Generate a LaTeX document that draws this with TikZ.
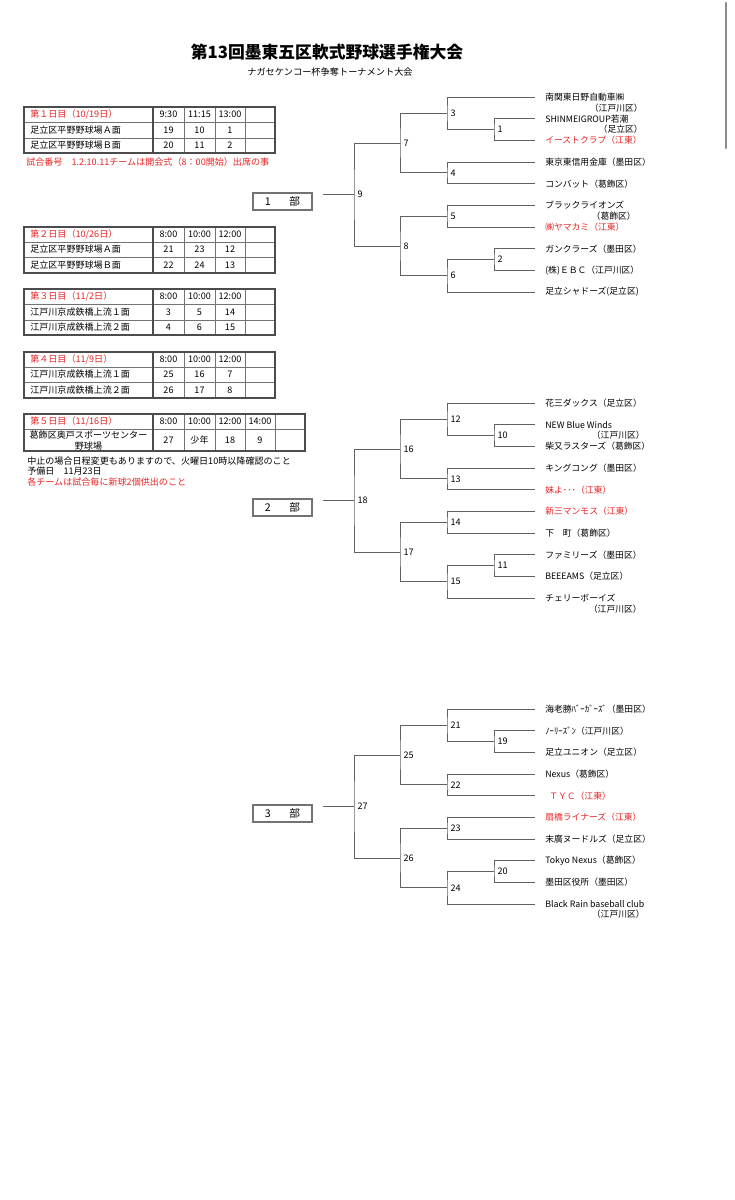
\documentclass[tikz,border=0pt]{standalone}
\usepackage{fontspec}
\setmainfont{Noto Sans CJK JP}
\definecolor{jred}{RGB}{232,36,36}

\begin{document}
\begin{tikzpicture}[
  x=0.75pt, y=-0.75pt,
  font=\fontsize{6.8}{8}\selectfont,
  team/.style={anchor=west, inner xsep=7.5pt, inner ysep=1pt,
               font=\fontsize{6.6}{7.5}\selectfont},
  ward/.style={anchor=east, inner sep=0pt, font=\fontsize{6.6}{7.5}\selectfont},
  num/.style={anchor=west, inner xsep=2.5pt, inner ysep=0pt,
              font=\fontsize{6.8}{8}\selectfont},
  br/.style={draw=black!62, line width=0.6pt},
  bu/.style={draw=black!55, line width=1.4pt, minimum width=44.25pt,
             minimum height=12.75pt, inner sep=0pt, font=\fontsize{8}{9}\selectfont},
  cell/.style={inner sep=0pt},
  lab/.style={anchor=west, inner sep=0pt},
  tline/.style={draw=black!55, line width=0.5pt},
  tframe/.style={draw=black!70, line width=1pt},
]
  \useasboundingbox (0,0) rectangle (735,1200);
  % ── Title ──
  \node[font=\fontsize{12.6}{14}\selectfont\bfseries] (title) at (327,52)
    {第13回墨東五区軟式野球選手権大会};
  \node[font=\fontsize{6.9}{8}\selectfont] (sub) at (330,72)
    {ナガセケンコー杯争奪トーナメント大会};
  % scroll bar of the screenshot
  \draw[line width=2.2pt, black!45, line cap=round] (726,3) -- (726,148);

  % ── Schedule: day 1 ──
  \draw[tline] (24,122) -- (275,122) (24,138) -- (275,138)
    (184,107) -- (184,153) (215,107) -- (215,153) (245,107) -- (245,153);
  \draw[tframe] (24,107) rectangle (275,153) (153,107) -- (153,153);
  \node[lab, text=jred] (d1) at (30,114.5) {第１日目（10/19日）};
  \node[cell] (d1x) at (168.5,114.5) {9:30};
  \node[cell] (d1y) at (199.5,114.5) {11:15};
  \node[cell] (d1z) at (230,114.5) {13:00};
  \node[lab] (a1) at (30,130) {足立区平野野球場Ａ面};
  \node[cell] (a1x) at (168.5,130) {19};
  \node[cell] (a1y) at (199.5,130) {10};
  \node[cell] (a1z) at (230,130) {1};
  \node[lab] (b1) at (30,145.5) {足立区平野野球場Ｂ面};
  \node[cell] (b1x) at (168.5,145.5) {20};
  \node[cell] (b1y) at (199.5,145.5) {11};
  \node[cell] (b1z) at (230,145.5) {2};
  \node[lab, text=jred] (note1) at (26,162)
    {試合番号　1.2.10.11チームは開会式（8：00開始）出席の事};

  % ── Schedule: day 2 ──
  \draw[tline] (24,242) -- (275,242) (24,257) -- (275,257)
    (184,227) -- (184,273) (215,227) -- (215,273) (245,227) -- (245,273);
  \draw[tframe] (24,227) rectangle (275,273) (153,227) -- (153,273);
  \node[lab, text=jred] (d2) at (30,234.5) {第２日目（10/26日）};
  \node[cell] (d2x) at (168.5,234.5) {8:00};
  \node[cell] (d2y) at (199.5,234.5) {10:00};
  \node[cell] (d2z) at (230,234.5) {12:00};
  \node[lab] (a2) at (30,249.5) {足立区平野野球場Ａ面};
  \node[cell] (a2x) at (168.5,249.5) {21};
  \node[cell] (a2y) at (199.5,249.5) {23};
  \node[cell] (a2z) at (230,249.5) {12};
  \node[lab] (b2) at (30,265) {足立区平野野球場Ｂ面};
  \node[cell] (b2x) at (168.5,265) {22};
  \node[cell] (b2y) at (199.5,265) {24};
  \node[cell] (b2z) at (230,265) {13};

  % ── Schedule: day 3 ──
  \draw[tline] (24,304) -- (275,304) (24,320) -- (275,320)
    (184,289) -- (184,335) (215,289) -- (215,335) (245,289) -- (245,335);
  \draw[tframe] (24,289) rectangle (275,335) (153,289) -- (153,335);
  \node[lab, text=jred] (d3) at (30,296.5) {第３日目（11/2日）};
  \node[cell] (d3x) at (168.5,296.5) {8:00};
  \node[cell] (d3y) at (199.5,296.5) {10:00};
  \node[cell] (d3z) at (230,296.5) {12:00};
  \node[lab] (a3) at (30,312) {江戸川京成鉄橋上流１面};
  \node[cell] (a3x) at (168.5,312) {3};
  \node[cell] (a3y) at (199.5,312) {5};
  \node[cell] (a3z) at (230,312) {14};
  \node[lab] (b3) at (30,327.5) {江戸川京成鉄橋上流２面};
  \node[cell] (b3x) at (168.5,327.5) {4};
  \node[cell] (b3y) at (199.5,327.5) {6};
  \node[cell] (b3z) at (230,327.5) {15};

  % ── Schedule: day 4 ──
  \draw[tline] (24,367) -- (275,367) (24,382) -- (275,382)
    (184,352) -- (184,398) (215,352) -- (215,398) (245,352) -- (245,398);
  \draw[tframe] (24,352) rectangle (275,398) (153,352) -- (153,398);
  \node[lab, text=jred] (d4) at (30,359.5) {第４日目（11/9日）};
  \node[cell] (d4x) at (168.5,359.5) {8:00};
  \node[cell] (d4y) at (199.5,359.5) {10:00};
  \node[cell] (d4z) at (230,359.5) {12:00};
  \node[lab] (a4) at (30,374.5) {江戸川京成鉄橋上流１面};
  \node[cell] (a4x) at (168.5,374.5) {25};
  \node[cell] (a4y) at (199.5,374.5) {16};
  \node[cell] (a4z) at (230,374.5) {7};
  \node[lab] (b4) at (30,390) {江戸川京成鉄橋上流２面};
  \node[cell] (b4x) at (168.5,390) {26};
  \node[cell] (b4y) at (199.5,390) {17};
  \node[cell] (b4z) at (230,390) {8};

  % ── Schedule: day 5 ──
  \draw[tline] (24,429) -- (305,429)
    (184,414) -- (184,451) (215,414) -- (215,451) (245,414) -- (245,451)
    (275,414) -- (275,451);
  \draw[tframe] (24,414) rectangle (305,451) (153,414) -- (153,451);
  \node[lab, text=jred] (d5) at (30,421.5) {第５日目（11/16日）};
  \node[cell] (d5x) at (168.5,421.5) {8:00};
  \node[cell] (d5y) at (199.5,421.5) {10:00};
  \node[cell] (d5z) at (230,421.5) {12:00};
  \node[cell] (d5w) at (260,421.5) {14:00};
  \node[cell, align=center, font=\fontsize{6.8}{7.6}\selectfont] (a5) at (88.5,440.5)
    {葛飾区奥戸スポーツセンター\\野球場};
  \node[cell] (a5x) at (168.5,440) {27};
  \node[cell] (a5y) at (199.5,440) {少年};
  \node[cell] (a5z) at (230,440) {18};
  \node[cell] (a5w) at (260,440) {9};
  \node[lab] (note2) at (27,461) {中止の場合日程変更もありますので、火曜日10時以降確認のこと};
  \node[lab] (note3) at (27,471.5) {予備日　11月23日};
  \node[lab, text=jred] (note4) at (27,482) {各チームは試合毎に新球2個供出のこと};

  % ── Division boxes ──
  \node[bu] (p1) at (282.5,201.5) {1\hspace{14pt}部};
  \node[bu] (p2) at (282.5,507.5) {2\hspace{14pt}部};
  \node[bu] (p3) at (282.5,813.5) {3\hspace{14pt}部};

  % ── Division 1: teams ──
  \node[team] (t1) at (535,97) {南関東日野自動車㈱};
  \node[ward] (w1) at (643,108) {（江戸川区）};
  \node[team] (t2) at (535,118.7) {SHINMEIGROUP若潮};
  \node[ward] (w2) at (643,129.5) {（足立区）};
  \node[team, text=jred] (t3) at (535,140.3) {イーストクラブ（江東）};
  \node[team] (t4) at (535,162) {東京東信用金庫（墨田区）};
  \node[team] (t5) at (535,183.7) {コンバット（葛飾区）};
  \node[team] (t6) at (535,205.3) {ブラックライオンズ};
  \node[ward] (w6) at (636,216) {（葛飾区）};
  \node[team, text=jred] (t7) at (535,227) {㈱ヤマカミ（江東）};
  \node[team] (t8) at (535,248.7) {ガンクラーズ（墨田区）};
  \node[team] (t9) at (535,270.3) {(株)ＥＢＣ（江戸川区）};
  \node[team] (t10) at (535,292) {足立シャドーズ(足立区)};
  % ── Division 1: games ──
  \node[num] (m1) at (494,129.5) {1};
  \node[num] (m3) at (447,113.25) {3};
  \node[num] (m4) at (447,172.8) {4};
  \node[num] (m7) at (400,143) {7};
  \node[num] (m5) at (447,216.2) {5};
  \node[num] (m2) at (494,259.5) {2};
  \node[num] (m6) at (447,275.75) {6};
  \node[num] (m8) at (400,246) {8};
  \node[num] (m9) at (354,194.5) {9};
  \draw[br] (t2.west) -| (m1.west) |- (t3.west);
  \draw[br] (t1.west) -| (m3.west) |- (m1.west);
  \draw[br] (t4.west) -| (m4.west) |- (t5.west);
  \draw[br] (m3.west) -| (m7.west) |- (m4.west);
  \draw[br] (t6.west) -| (m5.west) |- (t7.west);
  \draw[br] (t8.west) -| (m2.west) |- (t9.west);
  \draw[br] (m2.west) -| (m6.west) |- (t10.west);
  \draw[br] (m5.west) -| (m8.west) |- (m6.west);
  \draw[br] (m7.west) -| (m9.west) |- (m8.west);
  \draw[br, shorten <=7.5pt] (p1.east |- m9.west) -- (m9.west);

  % ── Division 2: teams ──
  \node[team] (t11) at (535,403) {花三ダックス（足立区）};
  \node[team] (t12) at (535,424.7) {NEW Blue Winds};
  \node[ward] (w12) at (645,435.5) {（江戸川区）};
  \node[team] (t13) at (535,446.3) {柴又ラスターズ（葛飾区）};
  \node[team] (t14) at (535,468) {キングコング（墨田区）};
  \node[team, text=jred] (t15) at (535,489.7) {妹よ･･･（江東）};
  \node[team, text=jred] (t16) at (535,511.3) {新三マンモス（江東）};
  \node[team] (t17) at (535,533) {下　町（葛飾区）};
  \node[team] (t18) at (535,554.7) {ファミリーズ（墨田区）};
  \node[team] (t19) at (535,576.3) {BEEEAMS（足立区）};
  \node[team] (t20) at (535,598) {チェリーボーイズ};
  \node[ward] (w20) at (642,609) {（江戸川区）};
  % ── Division 2: games ──
  \node[num] (m10) at (494,435.5) {10};
  \node[num] (m12) at (447,419.25) {12};
  \node[num] (m13) at (447,478.8) {13};
  \node[num] (m16) at (400,449) {16};
  \node[num] (m14) at (447,522.2) {14};
  \node[num] (m11) at (494,565.5) {11};
  \node[num] (m15) at (447,581.75) {15};
  \node[num] (m17) at (400,552) {17};
  \node[num] (m18) at (354,500.5) {18};
  \draw[br] (t12.west) -| (m10.west) |- (t13.west);
  \draw[br] (t11.west) -| (m12.west) |- (m10.west);
  \draw[br] (t14.west) -| (m13.west) |- (t15.west);
  \draw[br] (m12.west) -| (m16.west) |- (m13.west);
  \draw[br] (t16.west) -| (m14.west) |- (t17.west);
  \draw[br] (t18.west) -| (m11.west) |- (t19.west);
  \draw[br] (m11.west) -| (m15.west) |- (t20.west);
  \draw[br] (m14.west) -| (m17.west) |- (m15.west);
  \draw[br] (m16.west) -| (m18.west) |- (m17.west);
  \draw[br, shorten <=7.5pt] (p2.east |- m18.west) -- (m18.west);

  % ── Division 3: teams ──
  \node[team] (t21) at (535,709) {海老勝ﾊﾞｰｶﾞｰｽﾞ（墨田区）};
  \node[team] (t22) at (535,730.7) {ﾉｰﾘｰｽﾞﾝ（江戸川区）};
  \node[team] (t23) at (535,752.3) {足立ユニオン（足立区）};
  \node[team] (t24) at (535,774) {Nexus（葛飾区）};
  \node[team, text=jred] (t25) at (535,795.7) {\hspace{3pt}ＴＹＣ（江東）};
  \node[team, text=jred] (t26) at (535,817.3) {扇橋ライナーズ（江東）};
  \node[team] (t27) at (535,839) {末廣ヌードルズ（足立区）};
  \node[team] (t28) at (535,860.7) {Tokyo Nexus（葛飾区）};
  \node[team] (t29) at (535,882.3) {墨田区役所（墨田区）};
  \node[team] (t30) at (535,904) {Black Rain baseball club};
  \node[ward] (w30) at (645,914) {（江戸川区）};
  % ── Division 3: games ──
  \node[num] (m19) at (494,741.5) {19};
  \node[num] (m21) at (447,725.25) {21};
  \node[num] (m22) at (447,784.8) {22};
  \node[num] (m25) at (400,755) {25};
  \node[num] (m23) at (447,828.2) {23};
  \node[num] (m20) at (494,871.5) {20};
  \node[num] (m24) at (447,887.75) {24};
  \node[num] (m26) at (400,858) {26};
  \node[num] (m27) at (354,806.5) {27};
  \draw[br] (t22.west) -| (m19.west) |- (t23.west);
  \draw[br] (t21.west) -| (m21.west) |- (m19.west);
  \draw[br] (t24.west) -| (m22.west) |- (t25.west);
  \draw[br] (m21.west) -| (m25.west) |- (m22.west);
  \draw[br] (t26.west) -| (m23.west) |- (t27.west);
  \draw[br] (t28.west) -| (m20.west) |- (t29.west);
  \draw[br] (m20.west) -| (m24.west) |- (t30.west);
  \draw[br] (m23.west) -| (m26.west) |- (m24.west);
  \draw[br] (m25.west) -| (m27.west) |- (m26.west);
  \draw[br, shorten <=7.5pt] (p3.east |- m27.west) -- (m27.west);
\end{tikzpicture}
\end{document}
